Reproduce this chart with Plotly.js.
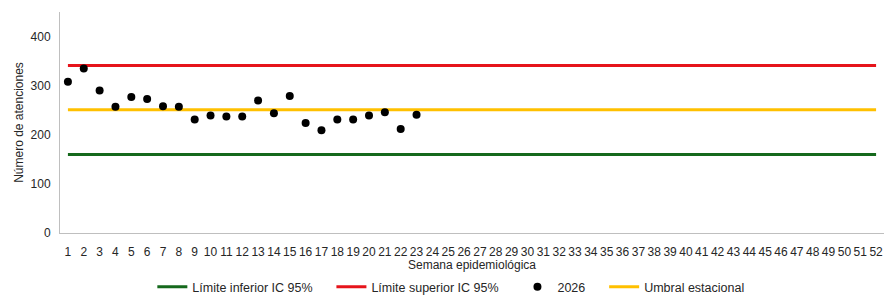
<!DOCTYPE html>
<html>
<head>
<meta charset="utf-8">
<script src="https://cdn.plot.ly/plotly-3.0.1.min.js"></script>
<style>html,body{margin:0;padding:0;background:#fff;}#chart{width:884px;height:295px;}</style>
</head>
<body>
<div id="chart"></div>
<script>
// Semanas epidemiológicas
const semanas = Array.from({length: 52}, (_, i) => i + 1);
const semanaLabels = semanas.map(String);
// Atenciones 2026 (semanas 1-23)
const semanas2026 = [1,2,3,4,5,6,7,8,9,10,11,12,13,14,15,16,17,18,19,20,21,22,23];
const atenciones2026 = [308,335,290,257,277,273,258,257,231,239,237,237,270,244,279,224,209,231,231,239,246,212,241];
// Umbrales (constantes por semana)
const limiteInferior = 160;
const limiteSuperior = 341;
const umbralEstacional = 251;

const fam = 'Liberation Sans, Arial, sans-serif';
const font = {family: fam, size: 12, color: '#262626'};
const legFont = {family: fam, size: 12.5, color: '#262626'};
const pad = '\u00a0\u00a0\u00a0\u00a0';

const traces = [
  {x: semanas, y: semanas.map(() => limiteInferior), name: 'Límite inferior IC 95%' + pad, mode: 'lines',
   line: {color: '#15691C', width: 3}, legendrank: 1},
  {x: semanas, y: semanas.map(() => limiteSuperior), name: 'Límite superior IC 95%' + pad, mode: 'lines',
   line: {color: '#E6141B', width: 3}, legendrank: 2},
  {x: semanas, y: semanas.map(() => umbralEstacional), name: 'Umbral estacional', mode: 'lines',
   line: {color: '#FFC000', width: 3}, legendrank: 4},
  {x: semanas2026, y: atenciones2026, name: '2026' + pad, mode: 'markers',
   marker: {color: '#000000', size: 8}, legendrank: 3}
];

const layout = {
  width: 884, height: 295,
  margin: {l: 60, r: 0, t: 12, b: 62},
  paper_bgcolor: '#fff', plot_bgcolor: '#fff',
  font: font,
  showlegend: true,
  legend: {orientation: 'h', x: 0.51, xanchor: 'center', xref: 'container',
           y: 0.027, yanchor: 'middle', yref: 'container',
           font: legFont, traceorder: 'normal', itemwidth: 30},
  xaxis: {
    range: [0.5, 52.5], tickmode: 'array', tickvals: semanas, ticktext: semanaLabels,
    showgrid: false, zeroline: false, showline: true, linecolor: '#BFBFBF', linewidth: 1,
    ticks: '', tickfont: font, automargin: false, ticklabelstandoff: 8,
    title: {text: 'Semana epidemiológica', font: font, standoff: 10}
  },
  yaxis: {
    range: [0, 450], tickvals: [0, 100, 200, 300, 400],
    showgrid: false, zeroline: false, showline: true, linecolor: '#BFBFBF', linewidth: 1,
    ticks: '', tickfont: font, ticklabelstandoff: 6, automargin: false,
    title: {text: 'Número de atenciones', font: font, standoff: 4}
  }
};

Plotly.newPlot('chart', traces, layout, {displayModeBar: false, staticPlot: true});
</script>
</body>
</html>
